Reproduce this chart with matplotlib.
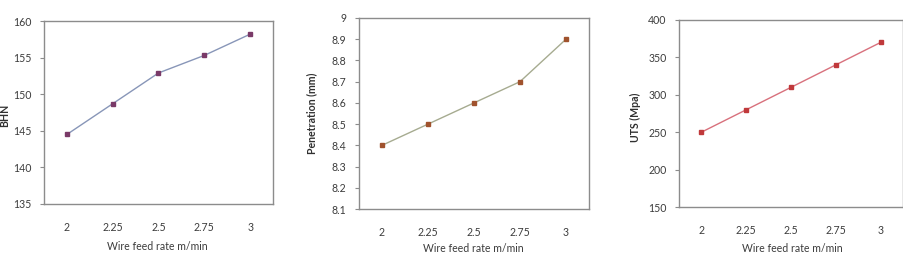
import matplotlib.pyplot as plt

# data
feed_rate = ['2', '2.25', '2.5', '2.75', '3']
bhn = [144.5, 148.7, 152.9, 155.3, 158.2]
penetration = [8.4, 8.5, 8.6, 8.7, 8.9]
uts = [250, 280, 310, 340, 370]

W, H = 904, 254
FS = 7.6
plt.rcParams['font.family'] = ['Lato', 'DejaVu Sans']

fig = plt.figure(figsize=(W / 100, H / 100), dpi=100)


def px_axes(left, top, right, bottom):
    return fig.add_axes([left / W, 1 - bottom / H, (right - left) / W, (bottom - top) / H])


def style(ax, ylim, yticks, xlab_pad):
    ax.set_xlim(-0.5, 4.5)
    ax.set_ylim(*ylim)
    ax.set_yticks(yticks)
    ax.set_yticklabels([f'{v:g}' for v in yticks])
    ax.set_xticks(range(len(feed_rate)))
    ax.set_xticklabels(feed_rate)
    for s in ax.spines.values():
        s.set_color('#8c8c8c')
        s.set_linewidth(1.0)
    ax.tick_params(axis='y', length=3, width=0.8, color='#8c8c8c', pad=6,
                   labelsize=FS, labelcolor='#3c3c3c')
    ax.tick_params(axis='x', length=0, pad=xlab_pad, labelsize=FS, labelcolor='#3c3c3c')


# panel 1: BHN
ax1 = px_axes(44, 21, 273, 204)
ax1.plot(range(5), bhn, color='#8896b8', lw=1.0, marker='s', ms=3.2,
         mfc='#7a3a68', mec='#7a3a68')
style(ax1, (135, 160), [135, 140, 145, 150, 155, 160], 13)
fig.text(157 / W, 1 - 246 / H, 'Wire feed rate m/min', ha='center', va='center',
         fontsize=FS, color='#3c3c3c')
fig.text(5 / W, 1 - 115 / H, 'BHN', ha='center', va='center', rotation=90,
         fontsize=FS, fontweight='bold', color='#303030')

# panel 2: Penetration
ax2 = px_axes(359, 18, 589, 209)
ax2.plot(range(5), penetration, color='#a6ab90', lw=1.0, marker='s', ms=3.2,
         mfc='#a0522d', mec='#a0522d')
style(ax2, (8.1, 9.0), [8.1, 8.2, 8.3, 8.4, 8.5, 8.6, 8.7, 8.8, 8.9, 9.0], 13)
fig.text(473 / W, 1 - 248.5 / H, 'Wire feed rate m/min', ha='center', va='center',
         fontsize=FS, color='#3c3c3c')
fig.text(312 / W, 1 - 113 / H, 'Penetration (mm)', ha='center', va='center',
         rotation=90, fontsize=FS, fontweight='bold', color='#303030')

# panel 3: UTS
ax3 = px_axes(679, 20, 903, 207)
ax3.plot(range(5), uts, color='#d8707c', lw=1.0, marker='s', ms=3.2,
         mfc='#c0393b', mec='#c0393b')
style(ax3, (150, 400), [150, 200, 250, 300, 350, 400], 13)
fig.text(792 / W, 1 - 248 / H, 'Wire feed rate m/min', ha='center', va='center',
         fontsize=FS, color='#3c3c3c')
fig.text(635 / W, 1 - 117 / H, 'UTS (Mpa)', ha='center', va='center',
         rotation=90, fontsize=FS, fontweight='bold', color='#303030')

fig.savefig('out.png', dpi=100)
